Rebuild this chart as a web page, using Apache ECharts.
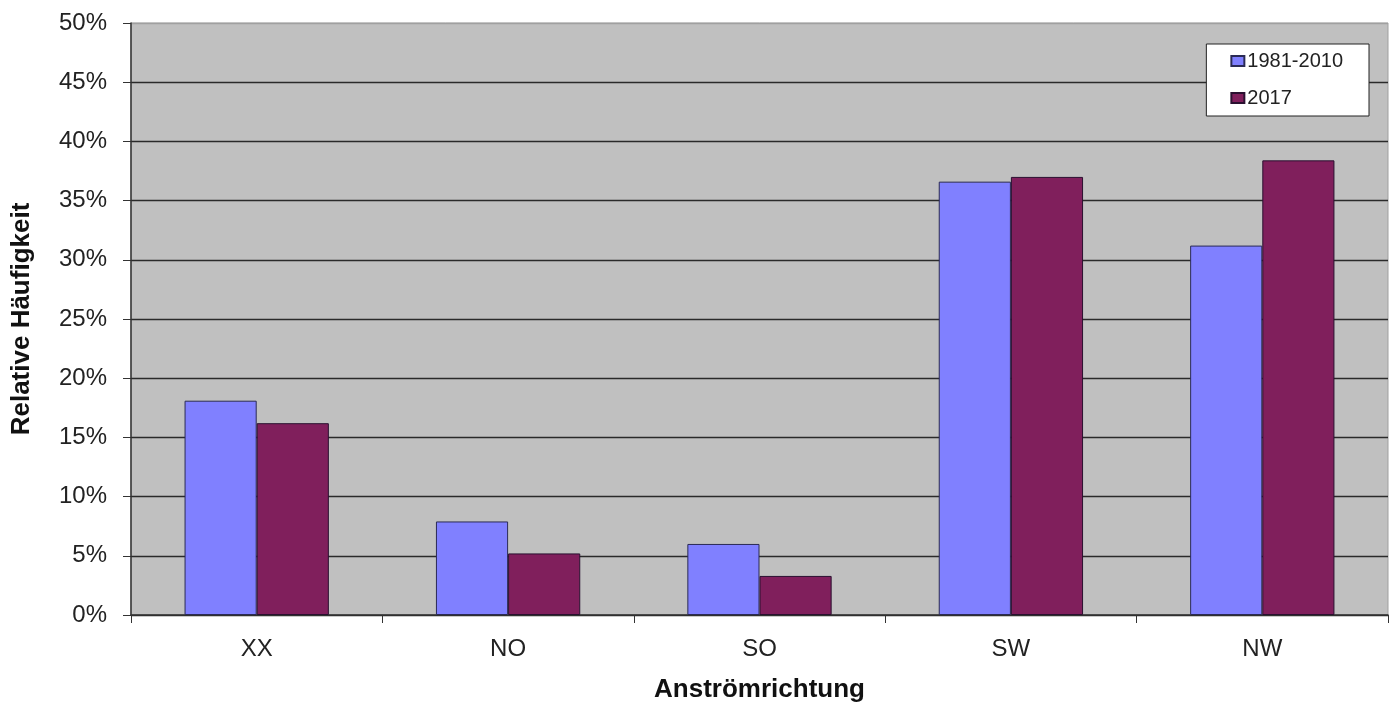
<!DOCTYPE html>
<html><head><meta charset="utf-8">
<script src="https://cdn.jsdelivr.net/npm/echarts@6/dist/echarts.min.js"></script>
<style>html,body{margin:0;padding:0;background:#fff}#c{width:1397px;height:716px}</style>
</head><body><div id="c"></div>
<script>
var categories = ['XX', 'NO', 'SO', 'SW', 'NW'];
var seriesNames = ['1981-2010', '2017'];
var values1981 = [18.1, 7.9, 6.0, 36.6, 31.2];
var values2017 = [16.2, 5.2, 3.3, 37.0, 38.4];
var yTicks = [0, 5, 10, 15, 20, 25, 30, 35, 40, 45, 50];

var chart = echarts.init(document.getElementById('c'));
var font = 'Liberation Sans, Arial, sans-serif';
var gridColors = yTicks.map(function (v, i) { return i === yTicks.length - 1 ? '#a0a0a0' : '#2a2a2a'; });
chart.setOption({
  animation: false,
  textStyle: { fontFamily: font },
  grid: { left: 131, right: 9, top: 23, bottom: 101, outerBoundsMode: 'none', containLabel: false,
    show: true, backgroundColor: '#c0c0c0', borderColor: '#a0a0a0', borderWidth: 1 },
  legend: {
    data: seriesNames,
    orient: 'vertical',
    right: 28, top: 44,
    backgroundColor: '#fff', borderColor: '#222', borderWidth: 1,
    padding: [7, 26, 8, 24],
    itemGap: 17,
    icon: 'rect', itemWidth: 13, itemHeight: 10,
    textStyle: { fontSize: 20, color: '#222', fontFamily: font, padding: [0, 0, 0, -2] }
  },
  xAxis: {
    type: 'category', data: categories,
    name: 'Anströmrichtung', nameLocation: 'middle', nameGap: 62,
    nameTextStyle: { fontSize: 26, fontWeight: 'bold', color: '#111', fontFamily: font },
    axisLine: { lineStyle: { color: '#333', width: 1.5 } },
    axisTick: { show: true, length: 8, lineStyle: { color: '#333' } },
    axisLabel: { fontSize: 24, color: '#222', margin: 22, fontFamily: font }
  },
  yAxis: {
    type: 'value', min: 0, max: 50, interval: 5,
    name: 'Relative Häufigkeit', nameLocation: 'middle', nameGap: 96, nameRotate: 90,
    nameTextStyle: { fontSize: 26, fontWeight: 'bold', color: '#111', fontFamily: font },
    axisLine: { show: true, lineStyle: { color: '#333', width: 1.5 } },
    axisTick: { show: true, length: 8, lineStyle: { color: '#333' } },
    axisLabel: { fontSize: 24, color: '#222', margin: 24, fontFamily: font, formatter: function (v) { return v + '%'; } },
    splitLine: { show: true, lineStyle: { color: gridColors, width: 1.3 } }
  },
  series: [
    { name: seriesNames[0], type: 'bar', data: values1981, barWidth: '28.7%', barGap: '0%',
      itemStyle: { color: '#8080ff', borderColor: '#2a2a55', borderWidth: 1 } },
    { name: seriesNames[1], type: 'bar', data: values2017, barWidth: '28.7%', barGap: '0%',
      itemStyle: { color: '#801f5c', borderColor: '#2a1030', borderWidth: 1 } }
  ]
});
</script></body></html>
